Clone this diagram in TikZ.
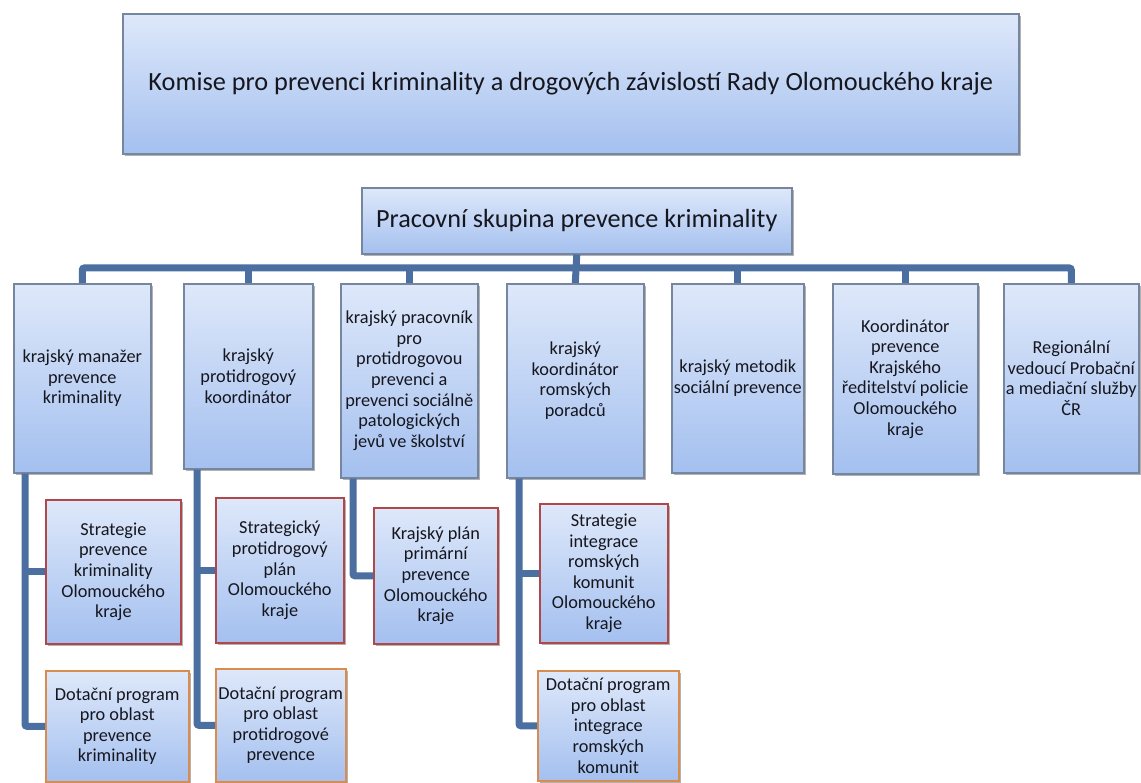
\documentclass[tikz,border=0pt]{standalone}
\usepackage{fontspec}
\setmainfont{Carlito}
\usetikzlibrary{shadows}
\definecolor{boxtop}{HTML}{DEE8FA}
\definecolor{boxbot}{HTML}{A4C0EF}
\definecolor{boxline}{HTML}{76869E}
\definecolor{redline}{HTML}{B0474A}
\definecolor{orgline}{HTML}{D98C4E}
\definecolor{connc}{HTML}{4A6FA0}
\definecolor{txt}{HTML}{16161E}
\tikzset{
  box/.style={draw=boxline, line width=1.6pt, top color=boxtop, bottom color=boxbot,
    anchor=north west, inner sep=0pt, align=center, text=txt,
    font=\fontsize{18.3}{20.6}\selectfont,
    drop shadow={shadow xshift=2.5pt, shadow yshift=-2.5pt, fill=black, opacity=0.3}},
  redbox/.style={box, draw=redline},
  orgbox/.style={box, draw=orgline},
  conn/.style={draw=connc, line width=7pt, rounded corners=2pt},
}
\begin{document}
\begin{tikzpicture}[x=1pt, y=-1pt]
\useasboundingbox (0,0) rectangle (1141,783);
% top level
\node[box, minimum width=896pt, minimum height=140pt, font=\fontsize{26.3}{30}\selectfont] (kom) at (122,13)
  {Komise pro prevenci kriminality a drogových závislostí Rady Olomouckého kraje};
\node[box, minimum width=430pt, minimum height=66pt, font=\fontsize{26.2}{30}\selectfont] (pk) at (361,187)
  {Pracovní skupina prevence kriminality};
% second level
\node[box, minimum width=137pt, minimum height=189pt] (b1) at (13,283) {krajský manažer\\prevence\\kriminality};
\node[box, minimum width=129pt, minimum height=185pt] (b2) at (183,283) {krajský\\protidrogový\\koordinátor};
\node[box, minimum width=137pt, minimum height=194pt] (b3) at (340,283) {krajský pracovník\\pro\\protidrogovou\\prevenci a\\prevenci sociálně\\patologických\\jevů ve školství};
\node[box, minimum width=137pt, minimum height=194pt] (b4) at (506,283) {krajský\\koordinátor\\romských\\poradců};
\node[box, minimum width=132pt, minimum height=189pt] (b5) at (671,283) {krajský metodik\\sociální prevence};
\node[box, minimum width=145pt, minimum height=190pt] (b6) at (832,283) {Koordinátor\\prevence\\Krajského\\ředitelství policie\\Olomouckého\\kraje};
\node[box, minimum width=135pt, minimum height=189pt] (b7) at (1003,283) {Regionální\\vedoucí Probační\\a mediační služby\\ČR};
% third level
\node[redbox, minimum width=135pt, minimum height=144pt] (s1) at (45,499) {Strategie\\prevence\\kriminality\\Olomouckého\\kraje};
\node[orgbox, minimum width=143pt, minimum height=111pt] (d1) at (45,670) {Dotační program\\pro oblast\\prevence\\kriminality};
\node[redbox, minimum width=128pt, minimum height=145pt] (s2) at (215,497) {Strategický\\protidrogový\\plán\\Olomouckého\\kraje};
\node[orgbox, minimum width=130pt, minimum height=113pt] (d2) at (215,668) {Dotační program\\pro oblast\\protidrogové\\prevence};
\node[redbox, minimum width=124pt, minimum height=136pt] (s3) at (373,507) {Krajský plán\\primární\\prevence\\Olomouckého\\kraje};
\node[redbox, minimum width=128pt, minimum height=139pt] (s4) at (539,503) {Strategie\\integrace\\romských\\komunit\\Olomouckého\\kraje};
\node[orgbox, minimum width=141pt, minimum height=110pt] (d4) at (537,670) {Dotační program\\pro oblast\\integrace\\romských\\komunit};
% bus
\coordinate (bus) at (575,268);
\draw[conn] (b1.north) -- (b1.north |- bus) -- (b7.north |- bus) -- (b7.north);
\draw[conn] (pk.south) -- (b4.north);
\foreach \b in {b2,b3,b5,b6} \draw[conn] (\b.north) -- (\b.north |- bus);
% lower connectors
\coordinate (v1) at ([xshift=12pt]b1.south west);
\coordinate (v2) at ([xshift=14pt]b2.south west);
\coordinate (v3) at ([xshift=13pt]b3.south west);
\coordinate (v4) at ([xshift=13pt]b4.south west);
\draw[conn] (v1) |- (d1.west);
\draw[conn] (v1 |- s1.west) -- (s1.west);
\draw[conn] (v2) |- (d2.west);
\draw[conn] (v2 |- s2.west) -- (s2.west);
\draw[conn] (v3) |- (s3.west);
\draw[conn] (v4) |- (d4.west);
\draw[conn] (v4 |- s4.west) -- (s4.west);
\end{tikzpicture}
\end{document}
